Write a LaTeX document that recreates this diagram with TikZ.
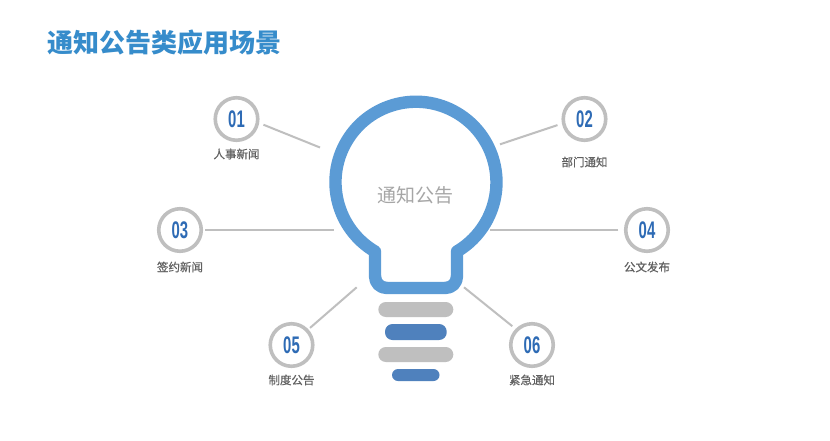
\documentclass[tikz,border=0pt]{standalone}
\usepackage{fontspec}
\newfontfamily\cjk{Noto Sans CJK SC}
\newfontfamily\cjkcap{Noto Sans CJK SC}[FakeBold=0.6]
\newfontfamily\digit{Liberation Sans}[FakeStretch=0.62]
\definecolor{bulb}{HTML}{5B9BD5}
\definecolor{bar}{HTML}{BFBFBF}
\definecolor{barblue}{HTML}{4F81BD}
\definecolor{ringc}{HTML}{BFBFBF}
\definecolor{numc}{HTML}{2E6BB5}
\definecolor{titlec}{HTML}{368CCB}
\tikzset{
  ring/.style={circle,draw=ringc,line width=3.6pt,fill=white,minimum size=42.5pt,inner sep=0pt,outer sep=0pt,
    font=\digit\bfseries\fontsize{24}{24}\selectfont,text=numc},
  captext/.style={font=\cjkcap\fontsize{11.5}{12}\selectfont,text=black!62,inner sep=0pt},
  link/.style={draw=ringc,line width=2pt},
}
\begin{document}
\begin{tikzpicture}[x=1pt,y=-1pt]
\useasboundingbox[fill=white] (0,0) rectangle (830,440);
\node[anchor=west,inner sep=0pt,font=\cjk\bfseries\fontsize{26}{26}\selectfont,text=titlec] (title) at (47,43) {通知公告类应用场景};
% bulb
\draw[bulb,line width=12.4pt,line join=round]
  (375,251.5) arc[start angle=120.6,end angle=419.4,radius=80.5]
  -- (457,276) .. controls (457,283) and (452,288) .. (445,288)
  -- (387,288) .. controls (380,288) and (375,283) .. (375,276) -- cycle;
\node[font=\cjk\fontsize{19}{19}\selectfont,text=black!35,inner sep=0pt] (mid) at (415.5,195) {通知公告};
% base
\fill[bar,rounded corners=7.5pt] (378.3,302) rectangle (453.3,317);
\fill[barblue,rounded corners=7.5pt] (385,324) rectangle (446.7,340);
\fill[bar,rounded corners=7.5pt] (378.3,347) rectangle (453.3,362);
\fill[barblue,rounded corners=6pt] (392,369) rectangle (439.5,381);
% rings
\node[ring] (c1) at (236.5,119) {01};
\node[ring] (c2) at (584.5,119) {02};
\node[ring] (c3) at (180,230) {03};
\node[ring] (c4) at (647,230) {04};
\node[ring] (c5) at (291.5,345) {05};
\node[ring] (c6) at (532,345) {06};
\node[captext] (t1) at (236.5,154) {人事新闻};
\node[captext] (t2) at (584.5,162) {部门通知};
\node[captext] (t3) at (180,267) {签约新闻};
\node[captext] (t4) at (647,267) {公文发布};
\node[captext] (t5) at (291.5,380) {制度公告};
\node[captext] (t6) at (532,380) {紧急通知};
% connectors
\coordinate (e1) at (320,147.5);
\coordinate (e2) at (500,144.3);
\coordinate (e3) at (334,230);
\coordinate (e4) at (490,230);
\coordinate (e5) at (356.7,287.3);
\coordinate (e6) at (464,287.3);
\draw[link,shorten <=6.4pt] (c1.-9.3) -- (e1);
\draw[link,shorten <=6.5pt] (c2.191) -- (e2);
\draw[link,shorten <=3.8pt] (c3) -- (e3);
\draw[link,shorten <=7.4pt] (c4) -- (e4);
\draw[link,shorten <=4pt] (c5.43) -- (e5);
\draw[link,shorten <=6pt] (c6.135) -- (e6);
\end{tikzpicture}
\end{document}
